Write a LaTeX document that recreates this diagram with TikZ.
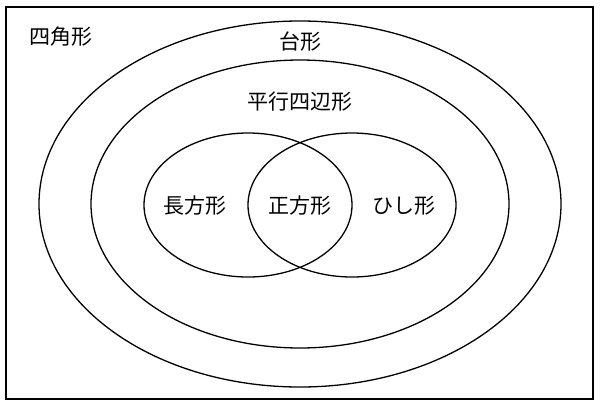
\documentclass[tikz,border=0pt]{standalone}
\usepackage{fontspec}
\newfontfamily\jpfont{Noto Sans CJK JP}
\tikzset{
  setline/.style={black, line width=1.3pt},
  setlabel/.style={font=\jpfont\fontsize{21}{24}\selectfont}
}
\begin{document}
\begin{tikzpicture}[x=1pt,y=-1pt]
    \useasboundingbox (0,0) rectangle (600,410);
    \fill [white] (0,0) rectangle (600,410);
    \draw [setline] (6,7) rectangle (593,399);
    \draw [setline] (300,204) ellipse [x radius=261, y radius=183];
    \draw [setline] (300,204) ellipse [x radius=209, y radius=144];
    \draw [setline] (248,205) ellipse [x radius=104, y radius=72];
    \draw [setline] (352,205) ellipse [x radius=104, y radius=72];
    \node [setlabel] (quad) at (61,37) {四角形};
    \node [setlabel] (trap) at (300,42) {台形};
    \node [setlabel] (para) at (300,102) {平行四辺形};
    \node [setlabel] (rect) at (195,206) {長方形};
    \node [setlabel] (square) at (300,206) {正方形};
    \node [setlabel] (rhomb) at (404,206) {ひし形};
  \end{tikzpicture}
\end{document}
